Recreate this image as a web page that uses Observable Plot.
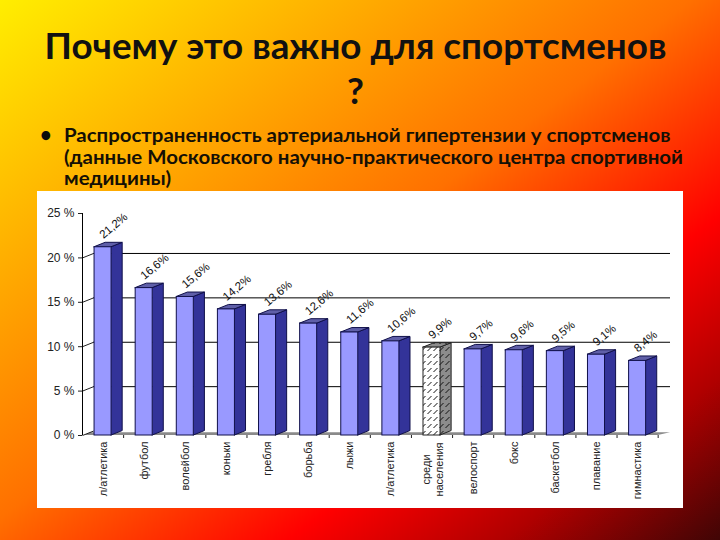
<!DOCTYPE html>
<html lang="ru"><head><meta charset="utf-8">
<script src="https://cdn.jsdelivr.net/npm/d3@7"></script>
<script src="https://cdn.jsdelivr.net/npm/@observablehq/plot@0.6"></script>
<style>
html,body{margin:0;padding:0}
#slide{position:relative;width:720px;height:540px;overflow:hidden;
 background:linear-gradient(to bottom right,#ffee00 0%,#ff7000 48%,#ff0000 70%,#b00000 85%,#400505 100%);
 font-family:Lato,"Open Sans","Noto Sans",sans-serif;color:#0a0a0a}
#title{position:absolute;left:0;top:23px;width:711px;text-align:center;font-size:36.8px;line-height:45px;font-weight:700;color:#111}
#bullet{position:absolute;left:40px;top:124px;font-size:20px;line-height:21px;font-weight:700}
#body{position:absolute;left:64px;top:125px;font-size:18px;line-height:21.7px;font-weight:700;color:#151005;white-space:nowrap;transform:scaleX(1.135);transform-origin:left top}
#panel{position:absolute;left:37px;top:191px;width:646px;height:317px;background:#fff}
#panel svg{display:block}
</style></head><body>
<div id="slide">
 <div id="title">Почему это важно для спортсменов<br>?</div>
 <div id="bullet">•</div>
 <div id="body">Распространенность артериальной гипертензии у спортсменов<br>(данные Московского научно-практического центра спортивной<br>медицины)</div>
 <div id="panel"></div>
</div>
<script>
const categories = ["л/атлетика","футбол","волейбол","коньки","гребля","борьба","лыжи","л/атлетика","среди\nнаселения","велоспорт","бокс","баскетбол","плавание","гимнастика"];
const values = [21.2,16.6,15.6,14.2,13.6,12.6,11.6,10.6,9.9,9.7,9.6,9.5,9.1,8.4];
const yTicks = [0,5,10,15,20,25];
const populationLabel = "среди\nнаселения";

// Geometry of the pseudo-3D bars, in data units
const halfW = 0.207, depthX = 0.27, depthY = 0.5;
const xMin = -0.5, xMax = 13.8;

const rows = values.map((v,i)=>({i,v,name:categories[i],pop:categories[i]===populationLabel}));
const side = rows.flatMap(d=>[
  {i:d.i,pop:d.pop,x:d.i+halfW,y1:0,y2:d.v},
  {i:d.i,pop:d.pop,x:d.i+halfW+depthX,y1:depthY,y2:d.v+depthY}]);
const top_ = rows.flatMap(d=>[
  {i:d.i,pop:d.pop,y:d.v,x1:d.i-halfW,x2:d.i+halfW},
  {i:d.i,pop:d.pop,y:d.v+depthY,x1:d.i-halfW+depthX,x2:d.i+halfW+depthX}]);
const floor = [{y:0,x1:xMin+0.05,x2:13.5},{y:0.3,x1:xMin+0.2,x2:xMax}];
const wallTicks = yTicks.filter(t=>t<25);
const gridTicks = yTicks.filter(t=>t>0&&t<25);
const bar = rows.filter(d=>!d.pop), barSide = side.filter(d=>!d.pop), barTop = top_.filter(d=>!d.pop);
const popB = rows.filter(d=>d.pop), popSide = side.filter(d=>d.pop), popTop = top_.filter(d=>d.pop);

function hatch(id,bg){
  return `<pattern id="${id}" width="6" height="7" patternUnits="userSpaceOnUse">
    <rect width="6" height="7" fill="${bg}"/><path d="M0.5 6L4.5 2" stroke="#111" stroke-width="1" fill="none"/></pattern>`;
}
const defs = () => {
  const g = document.createElementNS("http://www.w3.org/2000/svg","defs");
  g.innerHTML = hatch("hF","#ffffff")+hatch("hS","#8c8c8c");
  return g;
};
const navy = "#10104a";
const chart = Plot.plot({
  width:646,height:317,
  marginLeft:45,marginRight:13,marginTop:22,marginBottom:73,
  style:{background:"transparent",fontFamily:"'Liberation Sans',Arial,sans-serif",fontSize:"11px",color:"#222"},
  x:{domain:[xMin,xMax],axis:null},
  y:{domain:[0,25],axis:null},
  marks:[
    defs,
    Plot.ruleY(gridTicks,{y:d=>d+depthY,x1:xMin+depthX,x2:xMax,stroke:"#000",strokeWidth:1}),
    Plot.areaX(floor,{y:"y",x1:"x1",x2:"x2",fill:"#8a8a8a"}),
    Plot.link(wallTicks,{x1:xMin,y1:d=>d,x2:xMin+depthX,y2:d=>d+depthY,stroke:"#222",strokeWidth:1}),
    Plot.ruleX([xMin],{y1:0,y2:25,stroke:"#000",strokeWidth:1}),
    Plot.axisY({anchor:"left",ticks:yTicks,tickFormat:d=>d+" %",tickSize:4,tickPadding:4,label:null,fontSize:12}),
    Plot.axisX({anchor:"bottom",ticks:values.map((_,i)=>i+0.5),tickFormat:()=>"",tickSize:3,tickPadding:0,label:null}),
    Plot.areaY(barSide,{x:"x",y1:"y1",y2:"y2",z:"i",fill:"#333399",stroke:navy,strokeWidth:1}),
    Plot.areaX(barTop,{y:"y",x1:"x1",x2:"x2",z:"i",fill:"#5f5fa8",stroke:navy,strokeWidth:1}),
    Plot.rect(bar,{x1:d=>d.i-halfW,x2:d=>d.i+halfW,y1:0,y2:"v",fill:"#9999ff",stroke:navy,strokeWidth:1}),
    Plot.areaY(popSide,{x:"x",y1:"y1",y2:"y2",z:"i",fill:"url(#hS)",stroke:"#222",strokeWidth:1}),
    Plot.areaX(popTop,{y:"y",x1:"x1",x2:"x2",z:"i",fill:"url(#hS)",stroke:"#222",strokeWidth:1}),
    Plot.rect(popB,{x1:d=>d.i-halfW,x2:d=>d.i+halfW,y1:0,y2:"v",fill:"url(#hF)",stroke:"#222",strokeWidth:1}),
    Plot.text(rows,{x:"i",y:"v",text:d=>d.v.toFixed(1).replace(".",",")+"%",rotate:-40,textAnchor:"start",lineAnchor:"middle",dx:-2,dy:-11,fontSize:11.5,fill:"#111"}),
    Plot.text(bar,{x:"i",y:0,text:"name",rotate:-90,textAnchor:"end",lineAnchor:"middle",dy:6,fontSize:11,fill:"#222"}),
    Plot.text(popB,{x:"i",y:0,text:"name",rotate:-90,textAnchor:"middle",lineAnchor:"middle",dy:34,fontSize:11,fill:"#222",lineHeight:1.25})
  ]
});
document.getElementById("panel").append(chart);
</script>
</body></html>
